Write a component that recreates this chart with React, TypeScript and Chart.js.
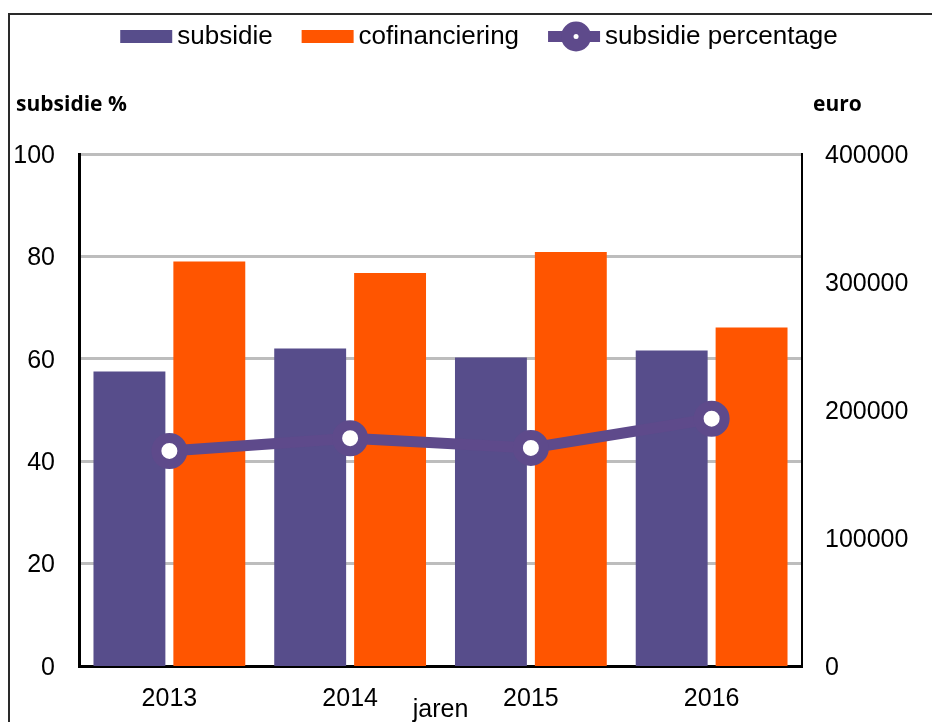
import React, { useEffect, useRef } from "react";
import { Chart, registerables } from "chart.js";

Chart.register(...registerables);

const years = ["2013", "2014", "2015", "2016"];
const subsidie = [230000, 248000, 241000, 246500];
const cofinanciering = [316000, 307000, 323500, 264500];
const subsidiePercentage = [42.0, 44.5, 42.6, 48.3];
const leftTicks = [0, 20, 40, 60, 80, 100];
const rightTicks = [0, 100000, 200000, 300000, 400000];

const PURPLE = "#574D8B";
const LINE_PURPLE = "#5E4A8B";
const ORANGE = "#FF5500";
const GRID = "#BDBDBD";
const FONT = "'Liberation Sans', Arial, sans-serif";
const BOLD_FONT = "'Open Sans', 'Liberation Sans', sans-serif";

const customPlugin = {
  id: "customDecor",
  afterDraw(chart: any) {
    const ctx = chart.ctx as CanvasRenderingContext2D;
    const area = chart.chartArea;
    ctx.save();
    // legend
    ctx.font = `26px ${FONT}`;
    ctx.textBaseline = "middle";
    ctx.textAlign = "left";
    ctx.fillStyle = "#000";
    const items = [
      { label: chart.data.datasets[1].label, kind: "box", color: PURPLE },
      { label: chart.data.datasets[2].label, kind: "box", color: ORANGE },
      { label: chart.data.datasets[0].label, kind: "line", color: LINE_PURPLE },
    ];
    const boxW = 52;
    const gapBoxText = 5;
    const gapItems = 29;
    const widths = items.map((it) => boxW + gapBoxText + ctx.measureText(it.label).width);
    const total = widths.reduce((a, b) => a + b, 0) + gapItems * (items.length - 1);
    let x = 479 - total / 2;
    const cy = 36.5;
    items.forEach((it, i) => {
      if (it.kind === "box") {
        ctx.fillStyle = it.color;
        ctx.fillRect(x, cy - 6.5, boxW, 13);
      } else {
        ctx.fillStyle = it.color;
        ctx.fillRect(x, cy - 5.5, boxW, 11);
        ctx.beginPath();
        ctx.arc(x + boxW / 2 + 2, cy, 15, 0, Math.PI * 2);
        ctx.fill();
        ctx.fillStyle = "#fff";
        ctx.beginPath();
        ctx.arc(x + boxW / 2 + 2, cy, 2.5, 0, Math.PI * 2);
        ctx.fill();
      }
      ctx.fillStyle = "#000";
      ctx.fillText(it.label, x + boxW + gapBoxText, cy);
      x += widths[i] + gapItems;
    });
    // axis titles
    ctx.font = `bold 21px ${BOLD_FONT}`;
    ctx.textBaseline = "alphabetic";
    ctx.textAlign = "left";
    ctx.fillText("subsidie %", 16, 111);
    ctx.fillText("euro", 813, 111);
    ctx.font = `25px ${FONT}`;
    ctx.textAlign = "center";
    ctx.fillText("jaren", (area.left + area.right) / 2, 717);
    ctx.restore();
  },
};

export default function App() {
  const ref = useRef<HTMLCanvasElement | null>(null);
  useEffect(() => {
    if (!ref.current) return;
    const chart = new Chart(ref.current, {
      type: "bar",
      data: {
        labels: years,
        datasets: [
          {
            type: "line",
            label: "subsidie percentage",
            data: subsidiePercentage,
            yAxisID: "y",
            order: 0,
            borderColor: LINE_PURPLE,
            backgroundColor: LINE_PURPLE,
            borderWidth: 11,
            pointRadius: 13,
            pointHoverRadius: 13,
            pointBorderWidth: 10,
            pointHoverBorderWidth: 10,
            pointBackgroundColor: "#ffffff",
            pointBorderColor: LINE_PURPLE,
            tension: 0,
          } as any,
          {
            type: "bar",
            label: "subsidie",
            data: subsidie,
            yAxisID: "y1",
            order: 1,
            backgroundColor: PURPLE,
            categoryPercentage: 0.884,
            barPercentage: 0.9,
          },
          {
            type: "bar",
            label: "cofinanciering",
            data: cofinanciering,
            yAxisID: "y1",
            order: 1,
            backgroundColor: ORANGE,
            categoryPercentage: 0.884,
            barPercentage: 0.9,
          },
        ],
      },
      options: {
        responsive: false,
        animation: false,
        layout: { padding: { top: 154, left: 0, right: 0, bottom: 0 } },
        plugins: {
          legend: { display: false },
          tooltip: { enabled: false },
          title: { display: false },
        },
        scales: {
          x: {
            grid: { display: false, drawTicks: false },
            border: { display: true, color: "#000", width: 3 },
            ticks: { color: "#000", font: { family: FONT, size: 25 }, padding: 18, maxRotation: 0 },
            afterFit: (s: any) => {
              s.height = 56;
            },
          },
          y: {
            position: "left",
            min: 0,
            max: 100,
            afterBuildTicks: (s: any) => {
              s.ticks = leftTicks.map((v) => ({ value: v }));
            },
            grid: { color: GRID, lineWidth: 3, drawTicks: false },
            border: { display: true, color: "#000", width: 3 },
            ticks: {
              color: "#000",
              font: { family: FONT, size: 25 },
              padding: 24,
              labelOffset: 2,
              callback: (v: any) => String(v),
            },
            afterFit: (s: any) => {
              s.width = 79;
            },
          },
          y1: {
            position: "right",
            min: 0,
            max: 400000,
            afterBuildTicks: (s: any) => {
              s.ticks = rightTicks.map((v) => ({ value: v }));
            },
            grid: { display: false, drawOnChartArea: false, drawTicks: false },
            border: { display: true, color: "#000", width: 2 },
            ticks: {
              color: "#000",
              font: { family: FONT, size: 25 },
              padding: 23,
              labelOffset: 2,
              callback: (v: any) => String(v),
            },
            afterFit: (s: any) => {
              s.width = 130;
            },
          },
        },
      },
      plugins: [customPlugin],
    });
    return () => chart.destroy();
  }, []);

  return (
    <div style={{ position: "absolute", left: 0, top: 0, width: 932, height: 722, overflow: "hidden", background: "#fff" }}>
      <div
        style={{
          position: "absolute",
          left: 8,
          top: 13,
          width: 1000,
          height: 800,
          borderLeft: "2px solid #2a2a2a",
          borderTop: "2px solid #2a2a2a",
        }}
      />
      <canvas ref={ref} width={932} height={722} style={{ position: "absolute", left: 0, top: 0 }} />
    </div>
  );
}
